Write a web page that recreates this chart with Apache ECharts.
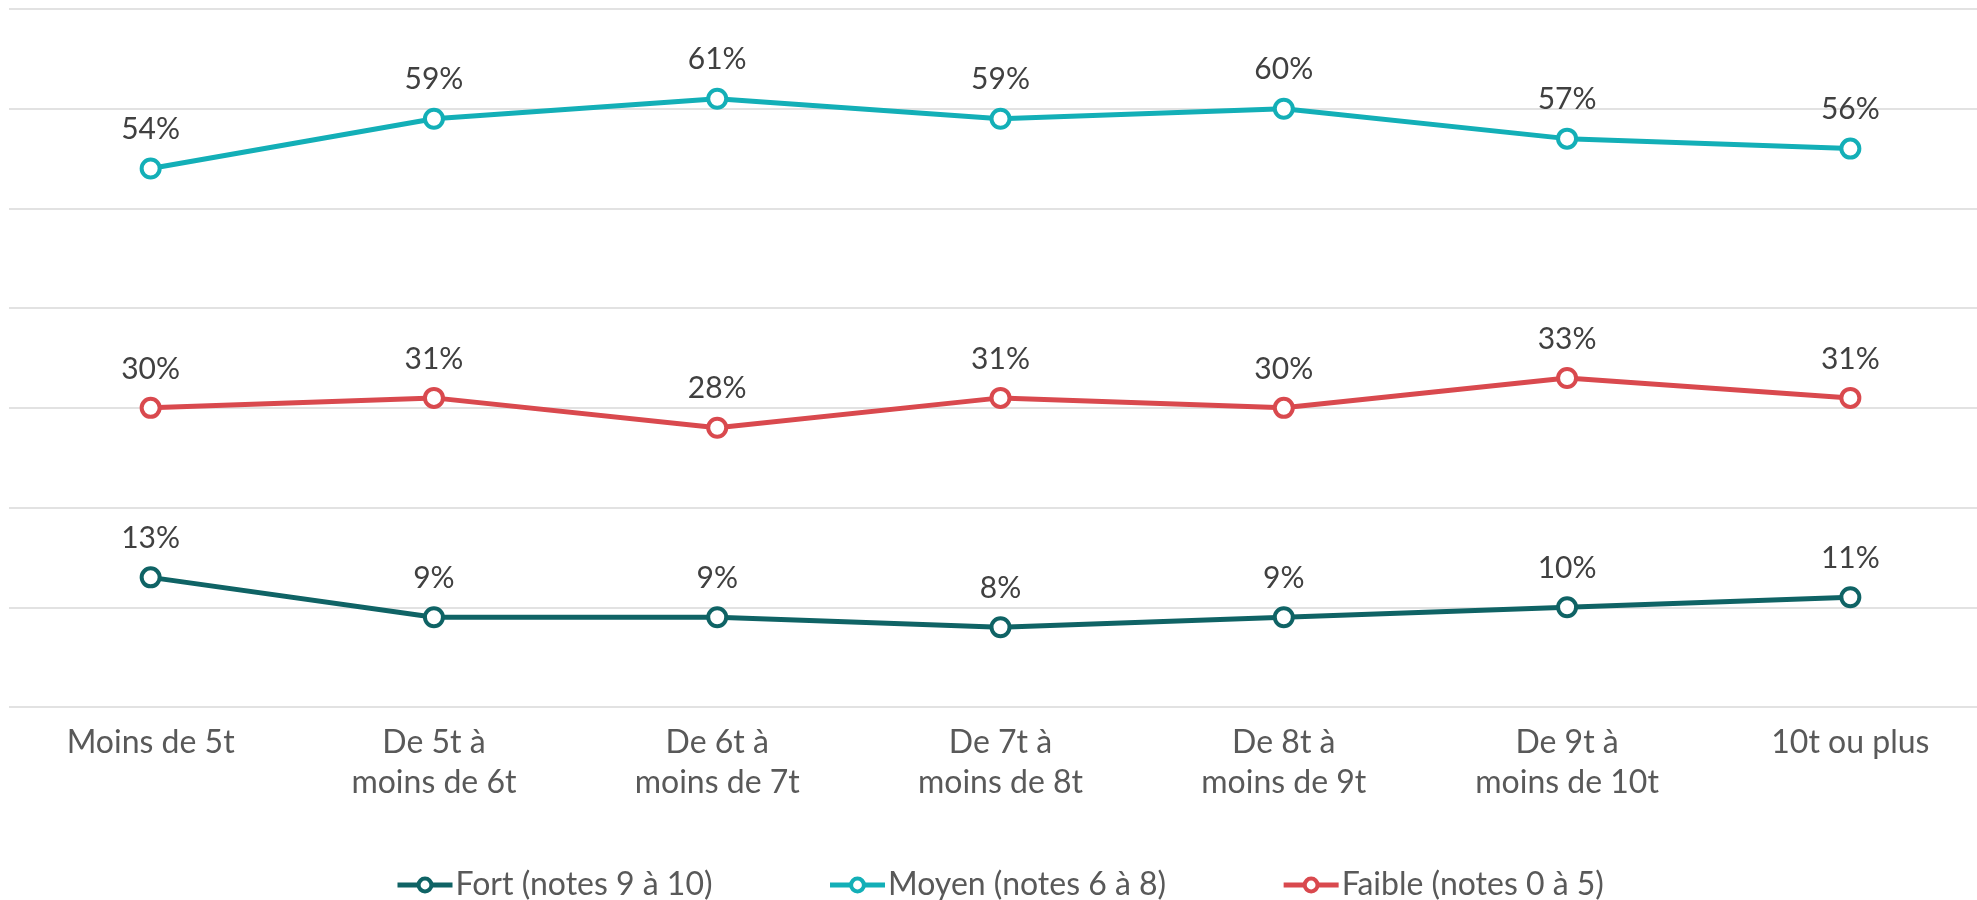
<!DOCTYPE html>
<html>
<head>
<meta charset="utf-8">
<script src="https://cdn.jsdelivr.net/npm/echarts@6/dist/echarts.min.js"></script>
<style>
html,body{margin:0;padding:0;background:#fff;overflow:hidden;width:1977px;height:900px;}
#chart{width:1992px;height:900px;}
</style>
</head>
<body>
<div id="chart"></div>
<script>
const categories = ["Moins de 5t", "De 5t à\nmoins de 6t", "De 6t à\nmoins de 7t", "De 7t à\nmoins de 8t", "De 8t à\nmoins de 9t", "De 9t à\nmoins de 10t", "10t ou plus"];
const seriesNames = ["Fort (notes 9 à 10)", "Moyen (notes 6 à 8)", "Faible (notes 0 à 5)"];
const fort = [13, 9, 9, 8, 9, 10, 11];
const moyen = [54, 59, 61, 59, 60, 57, 56];
const faible = [30, 31, 28, 31, 30, 33, 31];
const colors = ["#0F6365", "#13AFB7", "#D9494E"];

const FONT = "Lato, 'Open Sans', sans-serif";

function mkSeries(name, data, color) {
  return {
    name: name,
    type: 'line',
    data: data,
    symbol: 'circle',
    symbolSize: 18,
    lineStyle: { color: color, width: 5 },
    itemStyle: { color: '#ffffff', borderColor: color, borderWidth: 4 },
    label: {
      show: true,
      position: 'top',
      distance: 13,
      formatter: '{c}%',
      color: '#404040',
      fontFamily: FONT,
      fontSize: 30
    },
    emphasis: { disabled: true },
    animation: false
  };
}

const chart = echarts.init(document.getElementById('chart'));
chart.setOption({
  backgroundColor: '#ffffff',
  animation: false,
  grid: { left: 9, right: 0, top: 9, bottom: 193, containLabel: false },
  legend: {
    data: seriesNames,
    left: 390,
    top: 864,
    itemWidth: 55,
    itemHeight: 16,
    itemGap: 115,
    lineStyle: { width: 5 },
    itemStyle: { borderWidth: 4 },
    textStyle: { fontFamily: FONT, fontSize: 32, color: '#595959', padding: [0, 0, 0, -2] }
  },
  xAxis: {
    type: 'category',
    data: categories,
    boundaryGap: true,
    axisLine: { show: false },
    axisTick: { show: false },
    axisLabel: {
      interval: 0,
      margin: 16,
      fontFamily: FONT,
      fontSize: 32,
      lineHeight: 40,
      color: '#595959',
      align: 'center'
    }
  },
  yAxis: {
    type: 'value',
    min: 0,
    max: 70,
    interval: 10,
    axisLabel: { show: false },
    axisLine: { show: false },
    axisTick: { show: false },
    splitLine: { lineStyle: { color: '#D9D9D9', width: 1.5 } }
  },
  series: [
    mkSeries(seriesNames[0], fort, colors[0]),
    mkSeries(seriesNames[1], moyen, colors[1]),
    mkSeries(seriesNames[2], faible, colors[2])
  ]
});
</script>
</body>
</html>
